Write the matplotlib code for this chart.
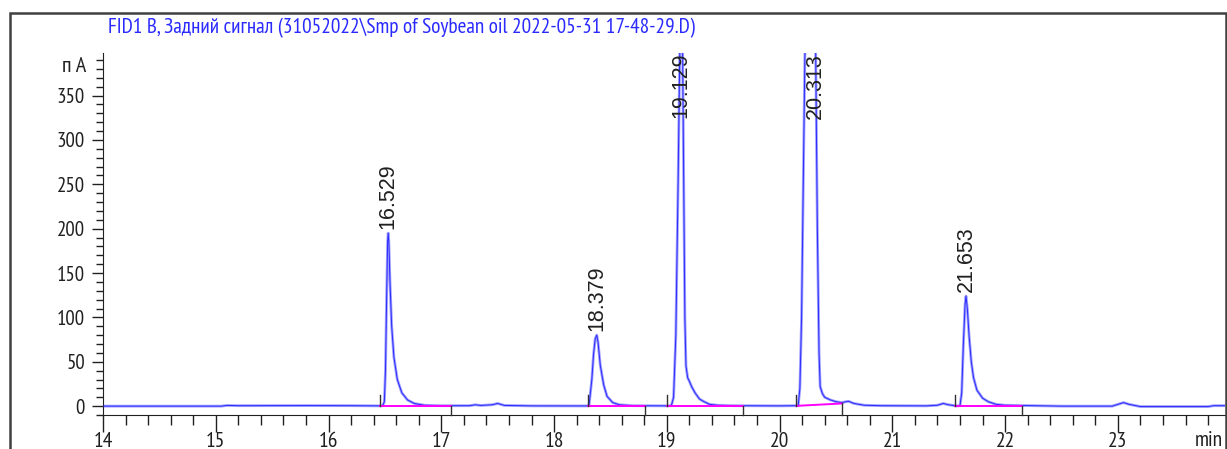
import matplotlib
matplotlib.use("Agg")
import matplotlib.pyplot as plt
import matplotlib.font_manager as fm
from matplotlib.patches import Rectangle
from matplotlib.ticker import MultipleLocator

# chromatogram trace (time in min, signal in pA)
trace_t = [14.00, 15.05, 15.10, 15.20, 15.80, 16.20, 16.45, 16.48,
           16.495, 16.505, 16.515, 16.524, 16.529, 16.535, 16.545, 16.56, 16.58, 16.61,
           16.65, 16.70, 16.76, 16.85, 17.00, 17.25, 17.30, 17.35, 17.45, 17.50, 17.56,
           17.80, 18.28, 18.31,
           18.335, 18.35, 18.365, 18.379, 18.39, 18.41, 18.44, 18.47, 18.52, 18.58, 18.70,
           19.00, 19.04, 19.06, 19.08, 19.10, 19.115, 19.129, 19.14, 19.15, 19.16, 19.17,
           19.185, 19.20, 19.22, 19.25, 19.29, 19.33, 19.38, 19.45, 19.60,
           20.00, 20.165, 20.18, 20.195, 20.21, 20.225, 20.25, 20.28, 20.313, 20.32, 20.335,
           20.35, 20.36, 20.38, 20.40, 20.45, 20.50, 20.55, 20.61, 20.66, 20.75, 20.90,
           21.30, 21.40, 21.45, 21.50, 21.57, 21.60,
           21.615, 21.63, 21.645, 21.653, 21.665, 21.68, 21.70, 21.72, 21.75, 21.80, 21.85,
           21.92, 22.00, 22.50, 22.95, 23.00, 23.05, 23.10, 23.20, 23.80, 23.85, 23.95]
trace_y = [0.0, 0.0, 0.8, 0.5, 0.6, 0.5, 0.3, 0.5,
           5.0, 40.0, 120.0, 185.0, 195.0, 185.0, 140.0, 90.0, 55.0, 30.0,
           15.0, 7.0, 3.0, 1.0, 0.5, 0.5, 1.5, 0.8, 1.5, 3.0, 0.8,
           0.3, 0.2, 0.5,
           30.0, 58.0, 76.0, 80.0, 72.0, 46.0, 24.0, 11.0, 4.0, 1.5, 0.5,
           0.3, 0.5, 10.0, 80.0, 250.0, 400.0, 440.0, 400.0, 250.0, 100.0, 45.0,
           32.0, 28.0, 22.0, 15.0, 8.0, 5.0, 2.0, 1.0, 0.5,
           0.3, 0.5, 20.0, 100.0, 250.0, 400.0, 700.0, 900.0, 950.0, 400.0, 200.0,
           60.0, 22.0, 14.0, 10.0, 7.0, 5.0, 4.0, 5.5, 3.0, 1.0, 0.5,
           0.3, 1.0, 3.0, 1.5, 0.2, 0.5,
           15.0, 70.0, 115.0, 124.0, 110.0, 80.0, 50.0, 32.0, 18.0, 9.0, 5.0,
           2.0, 1.0, 0.0, 0.0, 2.0, 4.0, 2.0, -0.5, -0.5, 0.5, 0.5]

# integrated peaks
peak_rt = [16.529, 18.379, 19.129, 20.313, 21.653]
peak_h = [195.0, 80.0, 440.0, 950.0, 124.0]
base_start = [16.46, 18.30, 19.00, 20.15, 21.56]
base_end = [17.09, 18.81, 19.68, 20.555, 22.15]
base_start_y = [0.3, 0.3, 0.3, 0.3, 0.3]
base_end_y = [0.3, 0.3, 0.3, 3.0, 0.3]

title = "FID1 B, Задний сигнал (31052022\\Smp of Soybean oil 2022-05-31 17-48-29.D)"
y_unit = "п А"

# pick a narrow face like the instrument software uses, if there is one
have = {f.name for f in fm.fontManager.ttflist}
narrow_names = ["Liberation Sans Narrow", "Arial Narrow", "PT Sans Narrow", "Roboto Condensed",
                "Archivo Narrow", "Open Sans Condensed", "Fira Sans Condensed",
                "IBM Plex Sans Condensed", "Encode Sans Condensed", "Asap Condensed",
                "Barlow Semi Condensed", "Pragati Narrow"]
narrow = [n for n in narrow_names if n in have][:1] + ["DejaVu Sans"]
regular = [n for n in ["Liberation Sans", "Arimo", "Arial"] if n in have][:1] + ["DejaVu Sans"]
plt.rcParams["font.family"] = narrow

fig = plt.figure(figsize=(12.27, 4.49), dpi=100)
ax = fig.add_axes([103 / 1227, 1 - 415 / 449, (1225 - 103) / 1227, (415 - 53) / 449])

ymin, ymax = -10, 398
ax.set_xlim(14, 23.95)
ax.set_ylim(ymin, ymax)

ax.plot(trace_t, trace_y, color="#a0a0ff", lw=2.0, solid_joinstyle="round", zorder=2)
ax.plot(trace_t, trace_y, color="#2a2aff", lw=0.7, zorder=3)

for i in range(len(peak_rt)):
    ax.plot([base_start[i], base_end[i]], [base_start_y[i], base_end_y[i]],
            color="#ff00ff", lw=1.4, zorder=4)
    ax.plot([base_start[i], base_start[i]], [base_start_y[i], base_start_y[i] + 12],
            color="#303030", lw=1.0, zorder=4)
    ax.plot([base_end[i], base_end[i]], [base_end_y[i], ymin],
            color="#303030", lw=1.0, zorder=4, clip_on=False)

for rt, h in zip(peak_rt, peak_h):
    if h < ymax - 60:
        ax.annotate("%.3f" % rt, (rt, h), xytext=(0, 3), textcoords="offset points",
                    rotation=90, ha="center", va="bottom", fontsize=15.5,
                    family=regular, color="#202020")
    else:
        ax.text(rt, ymax, "%.3f" % rt, rotation=90, ha="center", va="top",
                fontsize=15.5, family=regular, color="#202020")

for s in ["top", "right"]:
    ax.spines[s].set_visible(False)
ax.spines["left"].set_color("#202020")
ax.spines["bottom"].set_color("#202020")

ax.xaxis.set_major_locator(MultipleLocator(1))
ax.xaxis.set_minor_locator(MultipleLocator(0.2))
ax.yaxis.set_minor_locator(MultipleLocator(10))
ax.set_yticks(range(0, 351, 50))
ax.set_xticks(range(14, 24))
ax.tick_params(axis="x", which="major", length=12, width=1, pad=0, labelsize=15.5, colors="#202020")
ax.tick_params(axis="x", which="minor", length=7, width=1, colors="#202020")
ax.tick_params(axis="y", which="major", length=8, width=1, pad=5, labelsize=15, colors="#202020")
ax.tick_params(axis="y", which="minor", length=5, width=1, colors="#202020")

fig.text(1223 / 1227, 1 - 431 / 449, "min", fontsize=15.5, ha="right", va="top", color="#202020")
fig.text(86 / 1227, 1 - 67 / 449, y_unit, fontsize=16, ha="right", va="center", color="#202020")
fig.text(108 / 1227, 1 - 28 / 449, title, fontsize=15.3, ha="left", va="center", color="#2a2aff")

frame = Rectangle((10 / 1227, -0.1), (1226 - 10) / 1227, 1.1 - 13 / 449,
                  transform=fig.transFigure, fill=False, edgecolor="#404040", lw=1.8)
fig.patches.append(frame)

fig.savefig("out.png", dpi=100, facecolor="white")
